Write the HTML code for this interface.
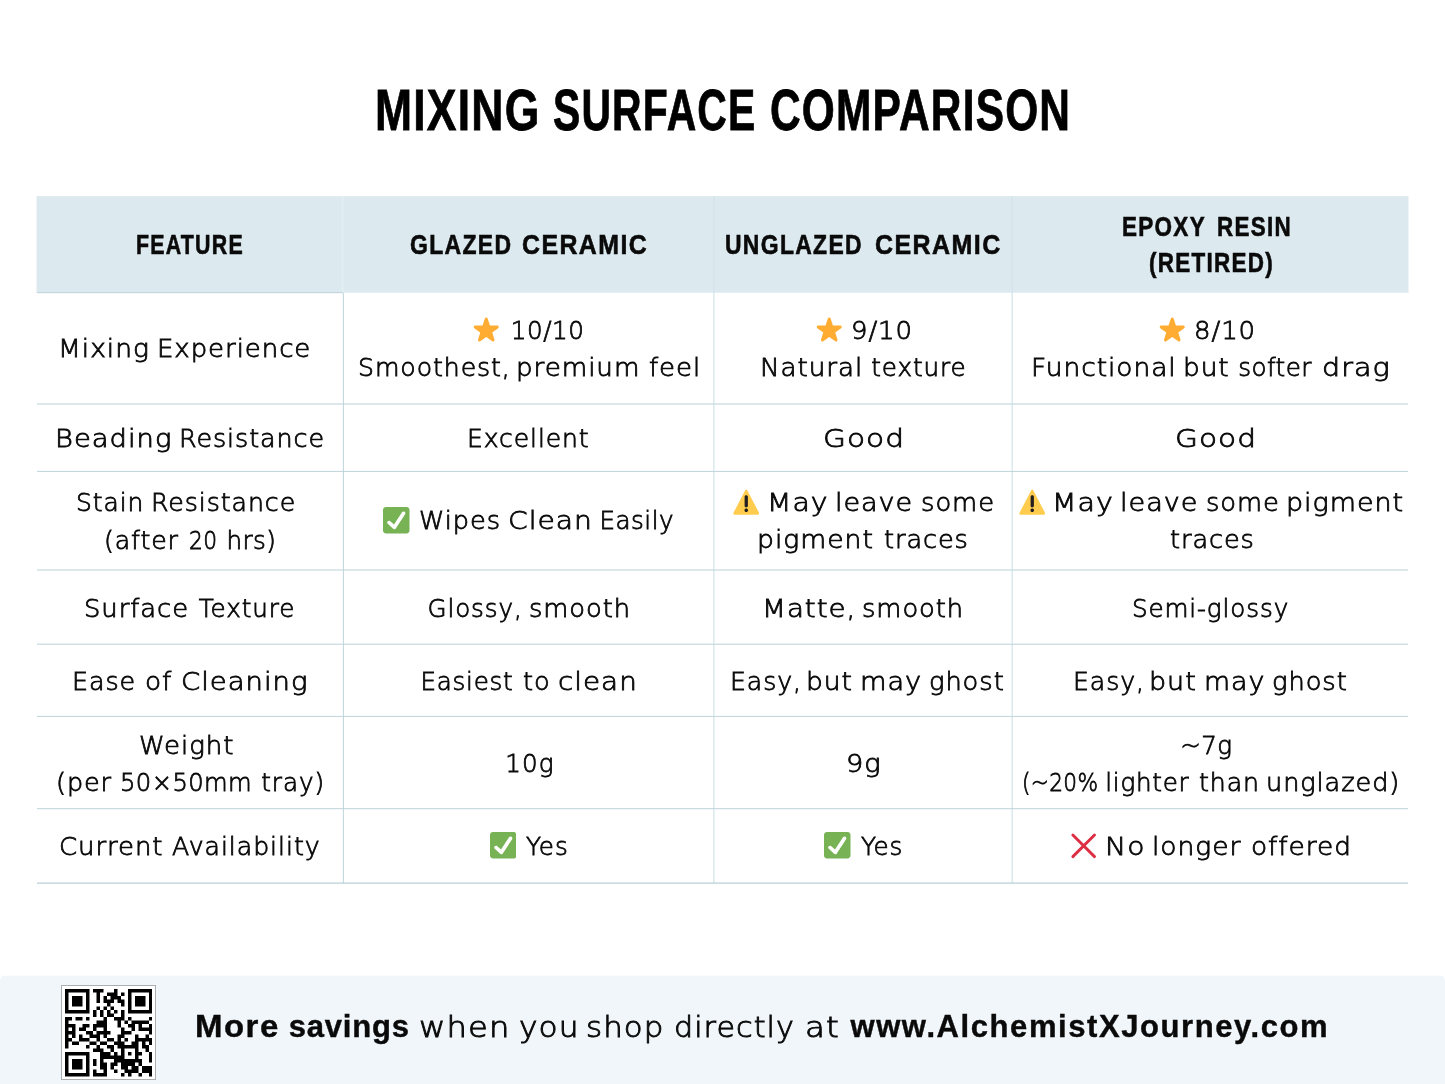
<!DOCTYPE html>
<html lang="en"><head><meta charset="utf-8"><title>Mixing Surface Comparison</title>
<style>
html,body{margin:0;padding:0}
body{width:1445px;height:1084px;position:relative;overflow:hidden;background:#fff}
.t{position:absolute;white-space:nowrap;line-height:40px;height:40px;transform-origin:0 0;margin:0}
.e{position:absolute;width:26.5px;height:26.5px}
.l{position:absolute;}
h1{margin:0;font-size:inherit;font-weight:inherit}
.b{font-family:'DejaVu Sans Light','DejaVu Sans',sans-serif;font-weight:200;font-size:24.6px;-webkit-text-stroke:0.8px #0a0a0a;color:#0a0a0a;}
.h{font-family:'Liberation Sans',sans-serif;font-weight:700;font-size:27.8px;-webkit-text-stroke:0.6px #0a0a0a;color:#0a0a0a;}
.fb{font-family:'Liberation Sans',sans-serif;font-weight:700;font-size:31px;-webkit-text-stroke:0.4px #0a0a0a;color:#0a0a0a;}
.fr{font-family:'DejaVu Sans Light','DejaVu Sans',sans-serif;font-weight:200;font-size:28.8px;-webkit-text-stroke:0.9px #0a0a0a;color:#0a0a0a;}
.ti{font-family:'Liberation Sans',sans-serif;font-weight:700;font-size:57.5px;color:#000;-webkit-text-stroke:0.8px #000;}
</style></head>
<body>
<div class="l" style="left:37px;top:196px;width:1371px;height:97px;background:linear-gradient(to bottom,#e0ebf1 0 1px,#dce9ef 1px 96px,#e6f0f4 96px 97px)"></div>
<div class="l" style="left:36px;top:196px;width:1px;height:97px;background:#eef4f7"></div>
<div class="l" style="left:1408px;top:196px;width:1px;height:97px;background:#eef4f7"></div>
<div class="l" style="left:341px;top:196px;width:3px;height:97px;background:linear-gradient(to right,rgba(226,238,243,0.40) 0px 1px,rgba(226,238,243,1.00) 1px 2px,rgba(226,238,243,0.60) 2px 3px)"></div>
<div class="l" style="left:713px;top:196px;width:2px;height:97px;background:linear-gradient(to right,rgba(212,228,234,0.80) 0px 1px,rgba(212,228,234,0.60) 1px 2px)"></div>
<div class="l" style="left:1011px;top:196px;width:2px;height:97px;background:linear-gradient(to right,rgba(212,228,234,0.55) 0px 1px,rgba(212,228,234,0.85) 1px 2px)"></div>
<div class="l" style="left:37px;top:292px;width:306px;height:2px;background:linear-gradient(to bottom,rgba(196,215,222,1.00) 0px 1px,rgba(196,215,222,0.20) 1px 2px)"></div>
<div class="l" style="left:342px;top:293px;width:2px;height:590px;background:linear-gradient(to right,rgba(190,212,218,0.12) 0px 1px,rgba(190,212,218,0.88) 1px 2px)"></div>
<div class="l" style="left:713px;top:293px;width:2px;height:590px;background:linear-gradient(to right,rgba(205,226,230,0.65) 0px 1px,rgba(205,226,230,0.45) 1px 2px)"></div>
<div class="l" style="left:1011px;top:293px;width:2px;height:590px;background:linear-gradient(to right,rgba(205,226,230,0.40) 0px 1px,rgba(205,226,230,0.70) 1px 2px)"></div>
<div class="l" style="left:37px;top:403px;width:1371px;height:2px;background:linear-gradient(to bottom,rgba(188,210,217,0.50) 0px 1px,rgba(188,210,217,0.50) 1px 2px)"></div>
<div class="l" style="left:37px;top:470px;width:1371px;height:2px;background:linear-gradient(to bottom,rgba(188,210,217,0.08) 0px 1px,rgba(188,210,217,0.88) 1px 2px)"></div>
<div class="l" style="left:37px;top:569px;width:1371px;height:2px;background:linear-gradient(to bottom,rgba(188,210,217,0.50) 0px 1px,rgba(188,210,217,0.50) 1px 2px)"></div>
<div class="l" style="left:37px;top:643px;width:1371px;height:2px;background:linear-gradient(to bottom,rgba(188,210,217,0.30) 0px 1px,rgba(188,210,217,0.70) 1px 2px)"></div>
<div class="l" style="left:37px;top:715px;width:1371px;height:2px;background:linear-gradient(to bottom,rgba(188,210,217,0.08) 0px 1px,rgba(188,210,217,0.88) 1px 2px)"></div>
<div class="l" style="left:37px;top:808px;width:1371px;height:2px;background:linear-gradient(to bottom,rgba(188,210,217,0.80) 0px 1px,rgba(188,210,217,0.20) 1px 2px)"></div>
<div class="l" style="left:37px;top:882px;width:1371px;height:2px;background:linear-gradient(to bottom,rgba(188,210,217,0.57) 0px 1px,rgba(188,210,217,0.77) 1px 2px)"></div>
<div class="l" style="left:0;top:975px;width:1445px;height:109px;background:linear-gradient(to bottom,#fafcfe 0 1px,#f0f6fa 1px 109px);border-radius:6px 6px 0 0"></div>
<div class="l" style="left:61px;top:985px;width:93px;height:93px;background:#fff;border:1px solid #abafb1;box-sizing:content-box"></div>
<svg style="position:absolute;left:64.9px;top:989.1px;width:87.5px;height:87.5px" viewBox="0 0 25 25"><path fill="#000" d="M0 0h7v1h-7zM8 0h3v1h-3zM14 0h1v1h-1zM18 0h7v1h-7zM0 1h1v1h-1zM6 1h1v1h-1zM9 1h1v1h-1zM12 1h3v1h-3zM16 1h1v1h-1zM18 1h1v1h-1zM24 1h1v1h-1zM0 2h1v1h-1zM2 2h3v1h-3zM6 2h1v1h-1zM9 2h1v1h-1zM11 2h1v1h-1zM13 2h3v1h-3zM18 2h1v1h-1zM20 2h3v1h-3zM24 2h1v1h-1zM0 3h1v1h-1zM2 3h3v1h-3zM6 3h1v1h-1zM9 3h1v1h-1zM11 3h3v1h-3zM15 3h2v1h-2zM18 3h1v1h-1zM20 3h3v1h-3zM24 3h1v1h-1zM0 4h1v1h-1zM2 4h3v1h-3zM6 4h1v1h-1zM12 4h1v1h-1zM16 4h1v1h-1zM18 4h1v1h-1zM20 4h3v1h-3zM24 4h1v1h-1zM0 5h1v1h-1zM6 5h1v1h-1zM9 5h1v1h-1zM11 5h1v1h-1zM13 5h1v1h-1zM18 5h1v1h-1zM24 5h1v1h-1zM0 6h7v1h-7zM8 6h1v1h-1zM10 6h1v1h-1zM12 6h1v1h-1zM14 6h1v1h-1zM16 6h1v1h-1zM18 6h7v1h-7zM8 7h1v1h-1zM10 7h1v1h-1zM12 7h2v1h-2zM16 7h1v1h-1zM0 8h2v1h-2zM3 8h2v1h-2zM6 8h1v1h-1zM11 8h1v1h-1zM14 8h3v1h-3zM18 8h1v1h-1zM24 8h1v1h-1zM0 9h1v1h-1zM9 9h3v1h-3zM15 9h1v1h-1zM17 9h1v1h-1zM19 9h5v1h-5zM0 10h3v1h-3zM5 10h2v1h-2zM8 10h4v1h-4zM15 10h1v1h-1zM18 10h2v1h-2zM21 10h1v1h-1zM24 10h1v1h-1zM0 11h1v1h-1zM2 11h1v1h-1zM4 11h2v1h-2zM8 11h1v1h-1zM11 11h1v1h-1zM16 11h1v1h-1zM19 11h1v1h-1zM21 11h4v1h-4zM0 12h3v1h-3zM6 12h2v1h-2zM9 12h4v1h-4zM16 12h3v1h-3zM24 12h1v1h-1zM0 13h1v1h-1zM2 13h1v1h-1zM4 13h1v1h-1zM7 13h3v1h-3zM11 13h1v1h-1zM15 13h2v1h-2zM20 13h1v1h-1zM23 13h1v1h-1zM0 14h2v1h-2zM4 14h3v1h-3zM9 14h1v1h-1zM12 14h2v1h-2zM15 14h1v1h-1zM17 14h1v1h-1zM20 14h5v1h-5zM0 15h1v1h-1zM2 15h2v1h-2zM7 15h2v1h-2zM10 15h2v1h-2zM14 15h3v1h-3zM19 15h2v1h-2zM22 15h1v1h-1zM24 15h1v1h-1zM0 16h1v1h-1zM6 16h1v1h-1zM9 16h1v1h-1zM12 16h2v1h-2zM15 16h6v1h-6zM22 16h2v1h-2zM8 17h3v1h-3zM13 17h1v1h-1zM16 17h1v1h-1zM20 17h1v1h-1zM23 17h1v1h-1zM0 18h7v1h-7zM10 18h3v1h-3zM14 18h1v1h-1zM16 18h1v1h-1zM18 18h1v1h-1zM20 18h2v1h-2zM24 18h1v1h-1zM0 19h1v1h-1zM6 19h1v1h-1zM10 19h7v1h-7zM20 19h1v1h-1zM24 19h1v1h-1zM0 20h1v1h-1zM2 20h3v1h-3zM6 20h1v1h-1zM8 20h1v1h-1zM10 20h1v1h-1zM14 20h8v1h-8zM24 20h1v1h-1zM0 21h1v1h-1zM2 21h3v1h-3zM6 21h1v1h-1zM8 21h1v1h-1zM10 21h2v1h-2zM13 21h2v1h-2zM16 21h4v1h-4zM21 21h1v1h-1zM0 22h1v1h-1zM2 22h3v1h-3zM6 22h1v1h-1zM10 22h2v1h-2zM13 22h1v1h-1zM16 22h2v1h-2zM19 22h2v1h-2zM22 22h3v1h-3zM0 23h1v1h-1zM6 23h1v1h-1zM8 23h1v1h-1zM11 23h1v1h-1zM14 23h1v1h-1zM17 23h4v1h-4zM22 23h3v1h-3zM0 24h7v1h-7zM8 24h4v1h-4zM16 24h1v1h-1zM18 24h1v1h-1zM21 24h1v1h-1zM24 24h1v1h-1z"/></svg>
<svg class="e" style="left:473.1px;top:316.1px" viewBox="0 0 36 36"><path fill="#FFAC33" d="M27.287 34.627c-.404 0-.806-.124-1.152-.371L18 28.422l-8.135 5.834c-.693.496-1.623.496-2.312-.008-.689-.499-.979-1.385-.721-2.194l3.034-9.792-8.062-5.681c-.685-.505-.97-1.393-.708-2.203.264-.808 1.016-1.357 1.866-1.363L12.947 13l3.179-9.549c.268-.809 1.023-1.353 1.874-1.353.851 0 1.606.545 1.875 1.353L23 13l10.036.015c.853.006 1.606.556 1.867 1.363.263.81-.022 1.698-.708 2.203l-8.062 5.681 3.034 9.792c.26.809-.033 1.695-.72 2.194-.347.254-.753.379-1.16.379z"/></svg>
<svg class="e" style="left:816.0px;top:316.1px" viewBox="0 0 36 36"><path fill="#FFAC33" d="M27.287 34.627c-.404 0-.806-.124-1.152-.371L18 28.422l-8.135 5.834c-.693.496-1.623.496-2.312-.008-.689-.499-.979-1.385-.721-2.194l3.034-9.792-8.062-5.681c-.685-.505-.97-1.393-.708-2.203.264-.808 1.016-1.357 1.866-1.363L12.947 13l3.179-9.549c.268-.809 1.023-1.353 1.874-1.353.851 0 1.606.545 1.875 1.353L23 13l10.036.015c.853.006 1.606.556 1.867 1.363.263.81-.022 1.698-.708 2.203l-8.062 5.681 3.034 9.792c.26.809-.033 1.695-.72 2.194-.347.254-.753.379-1.16.379z"/></svg>
<svg class="e" style="left:1159.1px;top:316.1px" viewBox="0 0 36 36"><path fill="#FFAC33" d="M27.287 34.627c-.404 0-.806-.124-1.152-.371L18 28.422l-8.135 5.834c-.693.496-1.623.496-2.312-.008-.689-.499-.979-1.385-.721-2.194l3.034-9.792-8.062-5.681c-.685-.505-.97-1.393-.708-2.203.264-.808 1.016-1.357 1.866-1.363L12.947 13l3.179-9.549c.268-.809 1.023-1.353 1.874-1.353.851 0 1.606.545 1.875 1.353L23 13l10.036.015c.853.006 1.606.556 1.867 1.363.263.81-.022 1.698-.708 2.203l-8.062 5.681 3.034 9.792c.26.809-.033 1.695-.72 2.194-.347.254-.753.379-1.16.379z"/></svg>
<svg class="e" style="left:383.3px;top:507.1px" viewBox="0 0 36 36"><path fill="#77B255" d="M36 32c0 2.209-1.791 4-4 4H4c-2.209 0-4-1.791-4-4V4c0-2.209 1.791-4 4-4h28c2.209 0 4 1.791 4 4v28z"/><path fill="#FFF" d="M29.28 6.362c-1.156-.751-2.704-.422-3.458.736L14.936 23.877l-5.029-4.65c-1.014-.938-2.596-.875-3.533.138-.937 1.014-.875 2.596.139 3.533l7.209 6.666c.48.445 1.09.665 1.696.665.673 0 1.534-.282 2.099-1.139.332-.506 12.5-19.27 12.5-19.27.751-1.159.421-2.707-.737-3.458z"/></svg>
<svg class="e" style="left:489.6px;top:832.4px" viewBox="0 0 36 36"><path fill="#77B255" d="M36 32c0 2.209-1.791 4-4 4H4c-2.209 0-4-1.791-4-4V4c0-2.209 1.791-4 4-4h28c2.209 0 4 1.791 4 4v28z"/><path fill="#FFF" d="M29.28 6.362c-1.156-.751-2.704-.422-3.458.736L14.936 23.877l-5.029-4.65c-1.014-.938-2.596-.875-3.533.138-.937 1.014-.875 2.596.139 3.533l7.209 6.666c.48.445 1.09.665 1.696.665.673 0 1.534-.282 2.099-1.139.332-.506 12.5-19.27 12.5-19.27.751-1.159.421-2.707-.737-3.458z"/></svg>
<svg class="e" style="left:824.1px;top:832.4px" viewBox="0 0 36 36"><path fill="#77B255" d="M36 32c0 2.209-1.791 4-4 4H4c-2.209 0-4-1.791-4-4V4c0-2.209 1.791-4 4-4h28c2.209 0 4 1.791 4 4v28z"/><path fill="#FFF" d="M29.28 6.362c-1.156-.751-2.704-.422-3.458.736L14.936 23.877l-5.029-4.65c-1.014-.938-2.596-.875-3.533.138-.937 1.014-.875 2.596.139 3.533l7.209 6.666c.48.445 1.09.665 1.696.665.673 0 1.534-.282 2.099-1.139.332-.506 12.5-19.27 12.5-19.27.751-1.159.421-2.707-.737-3.458z"/></svg>
<svg class="e" style="left:732.5px;top:488.6px" viewBox="0 0 36 36"><path fill="#FFCC4D" d="M2.653 35C.811 35-.001 33.662.847 32.027L16.456 1.972c.849-1.635 2.238-1.635 3.087 0l15.609 30.056c.85 1.634.037 2.972-1.805 2.972H2.653z"/><path fill="#231F20" d="M15.583 28.953c0-1.333 1.085-2.418 2.419-2.418 1.333 0 2.418 1.085 2.418 2.418 0 1.334-1.086 2.419-2.418 2.419-1.334 0-2.419-1.085-2.419-2.419zm.186-18.293c0-1.302.961-2.108 2.232-2.108 1.241 0 2.233.837 2.233 2.108v11.938c0 1.271-.992 2.108-2.233 2.108-1.271 0-2.232-.807-2.232-2.108V10.66z"/></svg>
<svg class="e" style="left:1018.6px;top:488.6px" viewBox="0 0 36 36"><path fill="#FFCC4D" d="M2.653 35C.811 35-.001 33.662.847 32.027L16.456 1.972c.849-1.635 2.238-1.635 3.087 0l15.609 30.056c.85 1.634.037 2.972-1.805 2.972H2.653z"/><path fill="#231F20" d="M15.583 28.953c0-1.333 1.085-2.418 2.419-2.418 1.333 0 2.418 1.085 2.418 2.418 0 1.334-1.086 2.419-2.418 2.419-1.334 0-2.419-1.085-2.419-2.419zm.186-18.293c0-1.302.961-2.108 2.232-2.108 1.241 0 2.233.837 2.233 2.108v11.938c0 1.271-.992 2.108-2.233 2.108-1.271 0-2.232-.807-2.232-2.108V10.66z"/></svg>
<svg class="l" style="left:1070px;top:832px;width:28px;height:28px" viewBox="0 0 28 28"><path d="M2.85 3.05L24.5 24.6M24.5 3.05L2.85 24.6" stroke="#DD2E44" stroke-width="2.9" stroke-linecap="round" fill="none"/></svg>
<h1>
<span class="t ti" style="left:374.86px;top:90.41px;letter-spacing:1.6px;transform:scaleX(0.7734);">MIXING</span> 
<span class="t ti" style="left:553.41px;top:90.41px;letter-spacing:1.6px;transform:scaleX(0.7113);">SURFACE</span> 
<span class="t ti" style="left:770.39px;top:90.41px;letter-spacing:1.6px;transform:scaleX(0.7385);">COMPARISON</span> 
</h1>
<div class="t h" style="left:136.3px;top:224.5px;letter-spacing:1.6px;transform:scaleX(0.7683);">FEATURE</div>
<div>
<span class="t h" style="left:409.78px;top:224.5px;letter-spacing:1.6px;transform:scaleX(0.8261);">GLAZED</span> 
<span class="t h" style="left:521.96px;top:224.5px;letter-spacing:1.6px;transform:scaleX(0.895);">CERAMIC</span> 
</div>
<div>
<span class="t h" style="left:725.33px;top:224.5px;letter-spacing:1.6px;transform:scaleX(0.8246);">UNGLAZED</span> 
<span class="t h" style="left:875.46px;top:224.5px;letter-spacing:1.6px;transform:scaleX(0.8989);">CERAMIC</span> 
</div>
<div>
<span class="t h" style="left:1122.26px;top:206.5px;letter-spacing:1.6px;transform:scaleX(0.8087);">EPOXY</span> 
<span class="t h" style="left:1217.27px;top:206.5px;letter-spacing:1.6px;transform:scaleX(0.8052);">RESIN</span> 
</div>
<div class="t h" style="left:1148.85px;top:242.75px;letter-spacing:1.6px;transform:scaleX(0.8073);">(RETIRED)</div>
<div>
<span class="t b" style="left:57.97px;top:329.01px;letter-spacing:0.9px;transform:scaleX(1.0774);">Mixing</span> 
<span class="t b" style="left:157.07px;top:329.01px;letter-spacing:0.9px;transform:scaleX(1.0556);">Experience</span> 
</div>
<div class="t b" style="left:510.79px;top:310.76px;letter-spacing:0.567px;">10/10</div>
<div>
<span class="t b" style="left:357.53px;top:347.76px;letter-spacing:0.9px;transform:scaleX(1.0233);">Smoothest,</span> 
<span class="t b" style="left:516.24px;top:347.76px;letter-spacing:0.9px;transform:scaleX(1.063);">premium</span> 
<span class="t b" style="left:648.85px;top:347.76px;letter-spacing:0.9px;transform:scaleX(1.055);">feel</span> 
</div>
<div class="t b" style="left:850.89px;top:310.76px;letter-spacing:0.9px;transform:scaleX(1.0538);">9/10</div>
<div>
<span class="t b" style="left:759.55px;top:347.76px;letter-spacing:0.9px;transform:scaleX(1.0644);">Natural</span> 
<span class="t b" style="left:871.28px;top:347.76px;letter-spacing:0.931px;">texture</span> 
</div>
<div class="t b" style="left:1193.5px;top:310.76px;letter-spacing:0.9px;transform:scaleX(1.0541);">8/10</div>
<div>
<span class="t b" style="left:1031.2px;top:347.76px;letter-spacing:0.9px;transform:scaleX(1.0746);">Functional</span> 
<span class="t b" style="left:1183.11px;top:347.76px;letter-spacing:0.9px;transform:scaleX(1.0711);">but</span> 
<span class="t b" style="left:1238.21px;top:347.76px;letter-spacing:0.439px;">softer</span> 
<span class="t b" style="left:1321.61px;top:347.76px;letter-spacing:0.9px;transform:scaleX(1.1622);">drag</span> 
</div>
<div>
<span class="t b" style="left:54.56px;top:418.81px;letter-spacing:0.9px;transform:scaleX(1.1135);">Beading</span> 
<span class="t b" style="left:178.78px;top:418.81px;letter-spacing:0.9px;transform:scaleX(1.0312);">Resistance</span> 
</div>
<div class="t b" style="left:467.37px;top:418.81px;letter-spacing:0.9px;transform:scaleX(1.0179);">Excellent</div>
<div class="t b" style="left:822.95px;top:418.81px;letter-spacing:0.9px;transform:scaleX(1.1999);">Good</div>
<div class="t b" style="left:1175.25px;top:418.81px;letter-spacing:0.9px;transform:scaleX(1.1999);">Good</div>
<div>
<span class="t b" style="left:75.74px;top:483.21px;letter-spacing:0.9px;transform:scaleX(1.0147);">Stain</span> 
<span class="t b" style="left:150.5px;top:483.21px;letter-spacing:0.9px;transform:scaleX(1.0251);">Resistance</span> 
</div>
<div>
<span class="t b" style="left:103.6px;top:520.51px;letter-spacing:0.9px;transform:scaleX(1.0233);">(after</span> 
<span class="t b" style="left:188.69px;top:520.51px;letter-spacing:0.4px;transform:scaleX(0.8852);">20</span> 
<span class="t b" style="left:226.39px;top:520.51px;letter-spacing:0.486px;">hrs)</span> 
</div>
<div>
<span class="t b" style="left:419.44px;top:500.81px;letter-spacing:0.9px;transform:scaleX(1.0412);">Wipes</span> 
<span class="t b" style="left:508.36px;top:500.81px;letter-spacing:0.9px;transform:scaleX(1.1432);">Clean</span> 
<span class="t b" style="left:599.41px;top:500.81px;letter-spacing:0.495px;">Easily</span> 
</div>
<div>
<span class="t b" style="left:766.54px;top:483.21px;letter-spacing:0.9px;transform:scaleX(1.1495);">May</span> 
<span class="t b" style="left:834.88px;top:483.21px;letter-spacing:0.9px;transform:scaleX(1.0976);">leave</span> 
<span class="t b" style="left:920.51px;top:483.21px;letter-spacing:0.9px;transform:scaleX(1.0493);">some</span> 
</div>
<div>
<span class="t b" style="left:757.29px;top:519.81px;letter-spacing:0.9px;transform:scaleX(1.0834);">pigment</span> 
<span class="t b" style="left:883.95px;top:519.81px;letter-spacing:0.9px;transform:scaleX(1.0385);">traces</span> 
</div>
<div>
<span class="t b" style="left:1051.83px;top:483.21px;letter-spacing:0.9px;transform:scaleX(1.1557);">May</span> 
<span class="t b" style="left:1119.88px;top:483.21px;letter-spacing:0.9px;transform:scaleX(1.1008);">leave</span> 
<span class="t b" style="left:1205.51px;top:483.21px;letter-spacing:0.9px;transform:scaleX(1.0455);">some</span> 
<span class="t b" style="left:1286.26px;top:483.21px;letter-spacing:0.9px;transform:scaleX(1.0945);">pigment</span> 
</div>
<div class="t b" style="left:1169.85px;top:519.81px;letter-spacing:0.9px;transform:scaleX(1.0384);">traces</div>
<div>
<span class="t b" style="left:83.98px;top:588.81px;letter-spacing:0.9px;transform:scaleX(1.0497);">Surface</span> 
<span class="t b" style="left:198.71px;top:588.81px;letter-spacing:0.944px;">Texture</span> 
</div>
<div>
<span class="t b" style="left:427.49px;top:588.81px;letter-spacing:0.897px;">Glossy,</span> 
<span class="t b" style="left:529.21px;top:588.81px;letter-spacing:0.9px;transform:scaleX(1.0464);">smooth</span> 
</div>
<div>
<span class="t b" style="left:761.57px;top:588.81px;letter-spacing:0.9px;transform:scaleX(1.1246);">Matte,</span> 
<span class="t b" style="left:861.61px;top:588.81px;letter-spacing:0.9px;transform:scaleX(1.0469);">smooth</span> 
</div>
<div class="t b" style="left:1131.96px;top:588.81px;letter-spacing:0.903px;">Semi-glossy</div>
<div>
<span class="t b" style="left:72.23px;top:662.21px;letter-spacing:0.9px;transform:scaleX(1.0313);">Ease</span> 
<span class="t b" style="left:144.76px;top:662.21px;letter-spacing:0.9px;transform:scaleX(1.0709);">of</span> 
<span class="t b" style="left:180.58px;top:662.21px;letter-spacing:0.9px;transform:scaleX(1.1165);">Cleaning</span> 
</div>
<div>
<span class="t b" style="left:420.61px;top:662.21px;letter-spacing:0.697px;">Easiest</span> 
<span class="t b" style="left:523.25px;top:662.21px;letter-spacing:0.9px;transform:scaleX(1.039);">to</span> 
<span class="t b" style="left:557.53px;top:662.21px;letter-spacing:0.9px;transform:scaleX(1.1289);">clean</span> 
</div>
<div>
<span class="t b" style="left:729.55px;top:662.21px;letter-spacing:0.9px;transform:scaleX(1.023);">Easy,</span> 
<span class="t b" style="left:805.59px;top:662.21px;letter-spacing:0.9px;transform:scaleX(1.077);">but</span> 
<span class="t b" style="left:859.77px;top:662.21px;letter-spacing:0.9px;transform:scaleX(1.1052);">may</span> 
<span class="t b" style="left:929.0px;top:662.21px;letter-spacing:0.9px;transform:scaleX(1.0458);">ghost</span> 
</div>
<div>
<span class="t b" style="left:1072.85px;top:662.21px;letter-spacing:0.9px;transform:scaleX(1.023);">Easy,</span> 
<span class="t b" style="left:1148.76px;top:662.21px;letter-spacing:0.9px;transform:scaleX(1.0957);">but</span> 
<span class="t b" style="left:1203.7px;top:662.21px;letter-spacing:0.9px;transform:scaleX(1.0891);">may</span> 
<span class="t b" style="left:1272.2px;top:662.21px;letter-spacing:0.9px;transform:scaleX(1.0462);">ghost</span> 
</div>
<div class="t b" style="left:138.51px;top:725.51px;letter-spacing:0.9px;transform:scaleX(1.0565);">Weight</div>
<div>
<span class="t b" style="left:55.97px;top:762.51px;letter-spacing:0.9px;transform:scaleX(1.0363);">(per</span> 
<span class="t b" style="left:120.2px;top:762.51px;letter-spacing:0.4px;transform:scaleX(0.9864);">50×50mm</span> 
<span class="t b" style="left:261.18px;top:762.51px;letter-spacing:1.009px;">tray)</span> 
</div>
<div class="t b" style="left:505.19px;top:743.81px;letter-spacing:1.122px;">10g</div>
<div class="t b" style="left:845.81px;top:743.81px;letter-spacing:0.9px;transform:scaleX(1.1045);">9g</div>
<div class="t b" style="left:1180.25px;top:725.51px;letter-spacing:0.361px;">~7g</div>
<div>
<span class="t b" style="left:1021.77px;top:762.51px;letter-spacing:0.4px;transform:scaleX(0.8794);">(~20%</span> 
<span class="t b" style="left:1105.19px;top:762.51px;letter-spacing:0.761px;">lighter</span> 
<span class="t b" style="left:1199.47px;top:762.51px;letter-spacing:0.9px;transform:scaleX(1.0253);">than</span> 
<span class="t b" style="left:1265.64px;top:762.51px;letter-spacing:0.9px;transform:scaleX(1.0391);">unglazed)</span> 
</div>
<div>
<span class="t b" style="left:58.79px;top:827.01px;letter-spacing:0.9px;transform:scaleX(1.0535);">Current</span> 
<span class="t b" style="left:171.99px;top:827.01px;letter-spacing:0.9px;transform:scaleX(1.0258);">Availability</span> 
</div>
<div class="t b" style="left:525.99px;top:827.01px;letter-spacing:1.079px;">Yes</div>
<div class="t b" style="left:861.09px;top:827.01px;letter-spacing:0.719px;">Yes</div>
<div>
<span class="t b" style="left:1104.96px;top:827.01px;letter-spacing:0.9px;transform:scaleX(1.1469);">No</span> 
<span class="t b" style="left:1152.42px;top:827.01px;letter-spacing:0.9px;transform:scaleX(1.0787);">longer</span> 
<span class="t b" style="left:1251.26px;top:827.01px;letter-spacing:0.9px;transform:scaleX(1.0728);">offered</span> 
</div>
<div>
<span class="t fb" style="left:194.5px;top:1007.05px;letter-spacing:1.4px;transform:scaleX(1.0638);">More</span> 
<span class="t fb" style="left:288.67px;top:1007.05px;letter-spacing:0.828px;">savings</span> 
</div>
<div>
<span class="t fr" style="left:418.61px;top:1006.81px;letter-spacing:1.0px;transform:scaleX(1.1197);">when</span> 
<span class="t fr" style="left:518.85px;top:1006.81px;letter-spacing:1.0px;transform:scaleX(1.0845);">you</span> 
<span class="t fr" style="left:586.46px;top:1006.81px;letter-spacing:1.0px;transform:scaleX(1.0718);">shop</span> 
<span class="t fr" style="left:674.46px;top:1006.81px;letter-spacing:1.0px;transform:scaleX(1.0475);">directly</span> 
<span class="t fr" style="left:805.22px;top:1006.81px;letter-spacing:1.0px;transform:scaleX(1.1287);">at</span> 
</div>
<div class="t fb" style="left:850.48px;top:1007.05px;letter-spacing:1.579px;">www.AlchemistXJourney.com</div>
</body></html>
